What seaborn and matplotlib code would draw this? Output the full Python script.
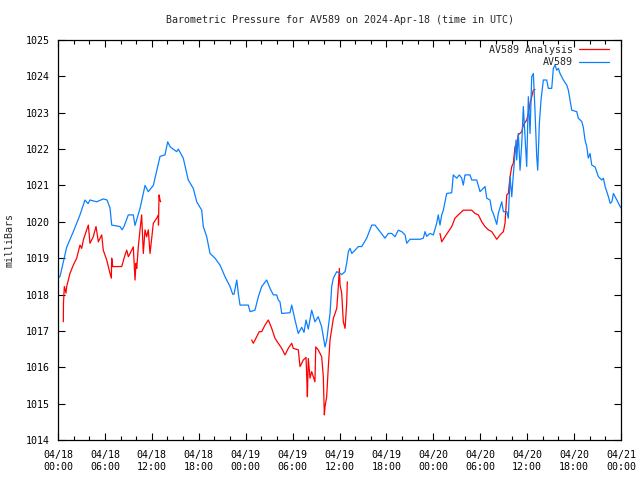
import numpy as np
import pandas as pd
import matplotlib
matplotlib.use("Agg")
import matplotlib.pyplot as plt
import matplotlib.dates as mdates
from matplotlib.lines import Line2D
import seaborn as sns

# ---------------- data (hours since 2024-04-18 00:00 UTC, pressure in mb) -------------
obs_hours = [0.0, 0.26, 0.68, 1.11, 1.96, 2.81, 3.45, 3.84, 4.09, 4.95, 5.79, 6.27, 6.65, 6.87,
             7.93, 8.19, 8.44, 8.99, 9.63, 9.85, 10.49, 11.13, 11.55, 12.19, 12.83, 13.05, 13.68,
             14.03, 14.32, 14.71, 15.18, 15.39, 16.02, 16.66, 17.30, 17.74, 18.38, 18.58, 19.02,
             19.44, 20.08, 20.72, 21.36, 22.0, 22.34, 22.51, 22.86, 23.06, 23.28, 24.34, 24.56,
             25.19, 25.62, 26.05, 26.69, 27.11, 27.54, 27.97, 28.17, 28.39, 28.61, 29.67, 29.89,
             30.31, 30.73, 31.17, 31.46, 31.72, 32.01, 32.44, 32.86, 33.28, 33.72, 34.15, 34.36,
             34.79, 35.0, 35.21, 35.65, 36.28, 36.71, 36.92, 37.13, 37.35, 37.57, 37.99, 38.41,
             38.84, 39.48, 40.12, 40.54, 41.18, 41.82, 42.24, 42.68, 43.10, 43.52, 43.96, 44.38,
             44.60, 45.02, 46.30, 46.72, 46.94, 47.15, 47.57, 48.0, 48.43, 48.63, 48.85, 49.07,
             49.28, 49.71, 50.35, 50.55, 50.99, 51.32, 51.63, 51.83, 52.05, 52.69, 52.91, 53.55,
             53.97, 54.61, 54.83, 55.25, 55.47, 55.67, 56.11, 56.31, 56.75, 56.96, 57.39, 57.59,
             57.81, 58.03, 58.23, 58.58, 58.66, 58.87, 59.09, 59.31, 59.51, 59.73, 59.94, 60.15,
             60.37, 60.58, 60.79, 61.0, 61.22, 61.35, 61.56, 61.77, 62.07, 62.5, 62.71, 63.14,
             63.35, 63.57, 63.78, 63.99, 64.2, 64.63, 65.06, 65.27, 65.48, 65.70, 66.34, 66.54,
             66.98, 67.18, 67.40, 67.62, 67.82, 68.04, 68.26, 68.68, 69.11, 69.54, 69.75, 69.97,
             70.39, 70.61, 70.83, 71.03, 71.47, 71.89, 72.0]
obs_mb = [1018.45, 1018.5, 1018.9, 1019.3, 1019.73, 1020.19, 1020.6, 1020.5, 1020.6, 1020.55,
          1020.63, 1020.6, 1020.38, 1019.91, 1019.87, 1019.78, 1019.87, 1020.19, 1020.19, 1019.9,
          1020.37, 1021.0, 1020.83, 1021.0, 1021.6, 1021.8, 1021.84, 1022.2, 1022.07, 1022.0,
          1021.93, 1022.0, 1021.75, 1021.15, 1020.92, 1020.55, 1020.32, 1019.87, 1019.59, 1019.13,
          1019.0, 1018.81, 1018.49, 1018.22, 1018.01, 1018.01, 1018.4, 1018.03, 1017.71, 1017.71,
          1017.53, 1017.57, 1017.94, 1018.22, 1018.4, 1018.17, 1017.99, 1017.99, 1017.85, 1017.8,
          1017.48, 1017.5, 1017.71, 1017.3, 1016.93, 1017.1, 1016.96, 1017.3, 1017.05, 1017.57,
          1017.25, 1017.39, 1017.11, 1016.56, 1016.74, 1017.48, 1018.22, 1018.45, 1018.63, 1018.55,
          1018.63, 1018.86, 1019.18, 1019.27, 1019.13, 1019.22, 1019.32, 1019.32, 1019.55, 1019.91,
          1019.91, 1019.73, 1019.55, 1019.68, 1019.68, 1019.59, 1019.77, 1019.73, 1019.64, 1019.41,
          1019.52, 1019.52, 1019.55, 1019.73, 1019.6, 1019.68, 1019.64, 1019.96, 1020.19, 1019.91,
          1020.19, 1020.32, 1020.78, 1020.8, 1021.29, 1021.2, 1021.29, 1021.2, 1021.01, 1021.29,
          1021.29, 1021.15, 1021.15, 1020.83, 1020.97, 1020.65, 1020.6, 1020.32, 1020.23, 1019.93,
          1020.23, 1020.55, 1020.28, 1020.28, 1020.1, 1021.24, 1020.69, 1021.3, 1022.25, 1021.7,
          1022.43, 1021.42, 1022.16, 1023.17, 1022.34, 1021.52, 1023.44, 1022.43, 1023.99, 1024.08,
          1023.07, 1021.8, 1021.42, 1022.71, 1023.35, 1023.9, 1023.9, 1023.67, 1023.67, 1024.22,
          1024.31, 1024.17, 1024.22, 1024.08, 1023.9, 1023.76, 1023.62, 1023.35, 1023.07, 1023.03,
          1022.85, 1022.76, 1022.6, 1022.25, 1022.07, 1021.75, 1021.88, 1021.56, 1021.51, 1021.24,
          1021.15, 1021.2, 1020.97, 1020.69, 1020.51, 1020.55, 1020.78, 1020.6, 1020.42, 1020.38]

ana1_hours = [0.68, 0.70, 0.81, 1.02, 1.11, 1.53, 1.96, 2.39, 2.81, 3.03, 3.24, 3.67, 3.88, 4.09,
              4.51, 4.86, 5.16, 5.59, 5.79, 6.23, 6.65, 6.82, 6.87, 7.0, 8.15, 8.57, 8.79, 9.0,
              9.21, 9.63, 9.85, 9.98, 10.07, 10.27, 10.49, 10.70, 10.91, 11.13, 11.34, 11.55,
              11.77, 11.98, 12.19, 12.62, 12.83, 12.85, 12.92, 13.05, 13.13]
ana1_mb = [1017.25, 1017.76, 1018.22, 1018.04, 1018.22, 1018.58, 1018.81, 1019.0, 1019.36,
           1019.27, 1019.5, 1019.78, 1019.91, 1019.41, 1019.59, 1019.87, 1019.45, 1019.64, 1019.22,
           1018.95, 1018.58, 1018.45, 1019.0, 1018.77, 1018.77, 1019.09, 1019.22, 1019.04, 1019.13,
           1019.31, 1018.4, 1018.86, 1018.72, 1019.31, 1019.78, 1020.19, 1019.13, 1019.78, 1019.59,
           1019.78, 1019.13, 1019.54, 1019.96, 1020.1, 1020.19, 1019.91, 1020.74, 1020.6, 1020.55]

ana2_hours = [24.77, 24.98, 25.41, 25.74, 26.05, 26.47, 26.90, 27.33, 27.75, 28.17, 28.61, 29.03,
              29.45, 29.89, 30.09, 30.73, 30.95, 31.17, 31.37, 31.72, 31.81, 31.89, 32.01, 32.23,
              32.44, 32.86, 32.96, 33.28, 33.72, 33.93, 34.06, 34.15, 34.36, 34.57, 34.79, 35.21,
              35.65, 35.85, 35.98, 36.07, 36.28, 36.49, 36.71, 36.92, 37.0]
ana2_mb = [1016.75, 1016.66, 1016.84, 1016.98, 1016.98, 1017.16, 1017.3, 1017.07, 1016.8,
           1016.66, 1016.52, 1016.34, 1016.52, 1016.66, 1016.52, 1016.48, 1016.02, 1016.11, 1016.2,
           1016.27, 1015.74, 1015.19, 1016.24, 1015.7, 1015.88, 1015.6, 1016.56, 1016.48, 1016.29,
           1015.74, 1014.69, 1014.92, 1015.19, 1016.02, 1016.75, 1017.34, 1017.62, 1018.22, 1018.72,
           1018.26, 1018.04, 1017.25, 1017.07, 1017.76, 1018.35]

ana3_hours = [48.85, 49.07, 49.49, 49.92, 50.35, 50.77, 51.19, 51.83, 52.91, 53.33, 53.76, 54.19,
              54.61, 55.03, 55.47, 55.89, 56.11, 56.53, 56.96, 57.17, 57.39, 57.59, 57.81, 58.03,
              58.23, 58.45, 58.66, 58.87, 59.31, 59.51, 59.94, 60.15, 60.37, 60.58, 60.79, 61.0]
ana3_mb = [1019.68, 1019.45, 1019.59, 1019.73, 1019.87, 1020.1, 1020.19, 1020.32, 1020.32,
           1020.23, 1020.19, 1020.0, 1019.87, 1019.78, 1019.73, 1019.59, 1019.52, 1019.64, 1019.73,
           1019.96, 1020.74, 1020.78, 1021.24, 1021.52, 1021.61, 1022.07, 1022.12, 1022.39, 1022.48,
           1022.66, 1022.8, 1022.98, 1023.26, 1023.44, 1023.62, 1023.64]

series_names = ["AV589 Analysis", "AV589"]
series_colors = ["#ff0000", "#0a80ff"]
start = pd.Timestamp("2024-04-18 00:00")
end = pd.Timestamp("2024-04-21 00:00")

# ---------------- build frames ----------------
frames = []
for seg, (h, v) in enumerate([(ana1_hours, ana1_mb), (ana2_hours, ana2_mb), (ana3_hours, ana3_mb)]):
    frames.append(pd.DataFrame({"time": start + pd.to_timedelta(h, unit="h"), "mb": v,
                                "series": series_names[0], "seg": seg}))
frames.append(pd.DataFrame({"time": start + pd.to_timedelta(obs_hours, unit="h"), "mb": obs_mb,
                            "series": series_names[1], "seg": 10}))
df = pd.concat(frames, ignore_index=True)

# ---------------- style ----------------
sns.set_style("ticks")
FONT = "DejaVu Sans Mono"
FS = 7.2
plt.rcParams.update({
    "font.family": [FONT, "DejaVu Sans"],
    "font.size": FS,
    "axes.edgecolor": "black",
    "axes.linewidth": 0.9,
    "xtick.direction": "in", "ytick.direction": "in",
    "xtick.top": True, "ytick.right": True,
    "xtick.color": "black", "ytick.color": "black",
    "xtick.labelsize": FS, "ytick.labelsize": FS,
})

fig = plt.figure(figsize=(6.4, 4.8), dpi=100)
ax = fig.add_axes([58 / 640, 1 - 440 / 480, (621 - 58) / 640, 400 / 480])

palette = dict(zip(series_names, series_colors))
sns.lineplot(data=df, x="time", y="mb", hue="series", units="seg", estimator=None,
             palette=palette, hue_order=series_names, sort=False, linewidth=0.9,
             legend=False, ax=ax)

ax.set_xlim(start, end)
ax.set_ylim(1014, 1025)
ax.set_yticks(np.arange(1014, 1026, 1))
ax.yaxis.set_major_formatter(matplotlib.ticker.FormatStrFormatter("%d"))

ax.xaxis.set_major_locator(mdates.HourLocator(byhour=range(0, 24, 6)))
ax.xaxis.set_minor_locator(mdates.HourLocator(byhour=range(0, 24, 2)))
ax.xaxis.set_major_formatter(mdates.DateFormatter("%m/%d\n%H:%M"))
ax.tick_params(axis="x", which="major", length=5, width=0.8, pad=7)
ax.tick_params(axis="x", which="minor", length=3, width=0.8)
ax.tick_params(axis="y", which="major", length=5, width=0.8, pad=6)

ax.set_xlabel("")
ax.set_ylabel("milliBars", fontsize=FS, labelpad=8)
ax.set_title("Barometric Pressure for AV589 on 2024-Apr-18 (time in UTC)", fontsize=FS, pad=12)

handles = [Line2D([], [], color=c, linewidth=0.9) for c in series_colors]
ax.legend(handles, series_names, loc="upper right", bbox_to_anchor=(0.9876, 1.0),
          frameon=False, markerfirst=False,
          fontsize=FS, handlelength=3.0, handletextpad=0.6, labelspacing=0.25,
          borderaxespad=0.3, borderpad=0.2)

for lab in ax.get_xticklabels():
    lab.set_linespacing(1.3)

fig.savefig("out.png", dpi=100)
